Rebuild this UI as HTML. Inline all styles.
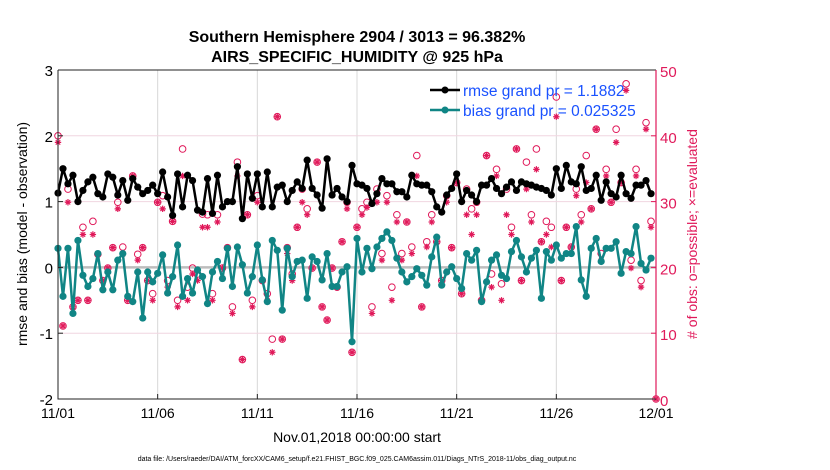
<!DOCTYPE html>
<html><head><meta charset="utf-8"><style>
body{margin:0;background:#fff;}
svg{display:block;font-family:"Liberation Sans",sans-serif;}
</style></head><body>
<svg id="chart" width="830" height="470" viewBox="0 0 830 470">
<text x="357" y="42" text-anchor="middle" font-size="16" font-weight="bold">Southern Hemisphere 2904 / 3013 = 96.382%</text>
<text x="357" y="62" text-anchor="middle" font-size="16" font-weight="bold">AIRS_SPECIFIC_HUMIDITY @ 925 hPa</text>
<g id="grid"></g>
<g id="marks"></g>
<g id="axes"></g>
<text transform="translate(27,234) rotate(-90)" text-anchor="middle" font-size="14">rmse and bias (model - observation)</text>
<text transform="translate(697,234) rotate(-90)" text-anchor="middle" font-size="14" fill="#e0195a"># of obs: o=possible; ×=evaluated</text>
<text x="357" y="442" text-anchor="middle" font-size="14">Nov.01,2018 00:00:00 start</text>
<text x="357" y="461" text-anchor="middle" font-size="7">data file: /Users/raeder/DAI/ATM_forcXX/CAM6_setup/f.e21.FHIST_BGC.f09_025.CAM6assim.011/Diags_NTrS_2018-11/obs_diag_output.nc</text>
<g>
<line x1="430" y1="90" x2="460" y2="90" stroke="#000" stroke-width="2.5"/>
<circle cx="445" cy="90" r="3.5" fill="#000"/>
<text x="463" y="96" font-size="15.5" fill="#1a52ff">rmse grand pr = 1.1882</text>
<line x1="430" y1="110" x2="460" y2="110" stroke="#108585" stroke-width="2.5"/>
<circle cx="445" cy="110" r="3.5" fill="#108585"/>
<text x="463" y="116" font-size="15.5" fill="#1a52ff">bias grand pr = 0.025325</text>
</g>
</svg>
<script>
const xTickLabels=["11/01","11/06","11/11","11/16","11/21","11/26","12/01"];
const yLeftTicks=[-2,-1,0,1,2,3];
const yRightTicks=[0,10,20,30,40,50];
const rmse=[1.13,1.5,1.27,1.4,1.0,1.17,1.3,1.37,1.12,1.07,1.42,1.37,1.1,1.32,1.02,1.35,1.22,1.12,1.17,1.25,1.12,1.45,1.07,0.79,1.42,0.92,1.4,1.32,0.87,0.84,
1.35,0.82,1.4,0.92,1.0,1.0,1.53,0.74,1.42,1.05,1.42,0.92,1.45,0.92,1.22,1.25,1.0,1.17,1.3,1.2,1.63,1.2,1.1,0.9,1.65,1.1,1.2,1.07,1.0,1.55,
1.27,1.25,1.2,0.97,1.12,1.35,1.27,1.27,1.15,1.15,1.07,1.4,1.27,1.25,1.25,1.15,0.92,0.84,1.1,1.2,1.42,1.0,1.17,1.1,1.0,1.25,1.25,1.35,1.2,1.12,
1.22,1.3,1.17,1.3,1.27,1.25,1.22,1.2,1.17,1.1,1.5,1.2,1.55,1.3,1.27,1.53,1.17,1.2,1.4,1.02,1.3,1.12,1.07,1.4,1.12,1.05,1.25,1.25,1.32,1.12];
const bias=[0.29,-0.44,0.29,-0.7,0.41,-0.12,-0.29,-0.17,0.21,-0.34,-0.07,-0.34,0.11,0.21,-0.44,-0.52,-0.07,-0.77,-0.07,-0.22,-0.09,0.19,-0.39,-0.14,0.34,-0.44,-0.17,-0.39,-0.04,-0.14,
-0.55,-0.07,0.09,-0.17,0.29,-0.29,0.31,0.04,-0.39,-0.14,0.34,-0.19,-0.52,0.41,0.26,-0.65,0.29,-0.14,0.09,0.11,-0.47,0.16,0.09,-0.19,0.21,-0.29,-0.29,-0.07,0.01,-1.13,
0.44,-0.07,0.29,-0.02,0.31,0.44,0.54,0.41,0.14,-0.07,-0.22,-0.14,-0.02,-0.12,-0.27,0.16,0.46,-0.27,-0.07,0.01,-0.17,-0.32,0.21,0.11,0.26,-0.52,-0.22,0.11,0.19,-0.12,
-0.17,0.24,0.41,0.16,-0.07,0.14,0.26,-0.47,0.24,0.11,0.34,0.14,0.21,0.21,0.62,-0.19,-0.44,0.29,0.44,0.09,0.29,0.29,0.39,-0.09,0.24,0.21,0.62,0.06,-0.04,0.14];
const nPossible=[40,11.1,31.9,14,15,26.1,15,27,22,18,19.9,23,29.9,23.1,15,33.9,22,23,18,16,29.9,30.9,18,27,15,38,17,19.9,19,28.1,
28,16,28,19.9,23,14,36,6,28,15,30.9,18,16,9.1,42.9,9.1,23,19,26.1,31.9,28.9,19.9,36,14,12,19.9,17,23.9,29.9,7.1,
26.1,28.9,29.9,14,31.9,22.1,30.9,17,28,22.1,26.9,23.1,37,14,23.9,28,23.9,18,30.9,23,32.9,16,31.9,28.9,29.9,15,37,19,34.9,17.5,
31.9,26.1,38,18,36,28,38,23.9,27,26.1,45.9,18,26.1,23.1,31.9,28,37,28.9,41,22.1,34.9,29.9,41,32.9,47.9,21.1,34.9,18,42,27,0];
const nEvaluated=[39,11.1,29.9,14,15,25,15,25,22,18,19.9,23,28.9,22,15,33.9,21.1,23,18,15,29.9,28.9,17,27,14,33.9,15,19,18,26.1,
26.1,15,26.9,19.9,23,13,33.9,6,28,14,29.9,18,15,7.1,42.9,9.1,22.1,18,26.1,29.9,28,19.9,36,14,12,19.9,17,23.9,28.9,7.1,
26.1,28,29.1,13,29.9,21.1,29.9,15,26.9,21.1,26.9,22.1,33.9,14,23.1,26.9,23.9,18,29.9,23,32.9,16,28,25,28,15,37,17,33.9,15,
28,25,38,18,31.9,26.9,34.9,23.9,25,23.1,42.9,18,26.1,23.1,30.9,26.9,32.9,28.9,41,21.1,33.9,29.9,39,32.9,46.9,19.9,33.9,17,41,26.1,0];

const NS="http://www.w3.org/2000/svg";
const L=58,R=656,T=70,B=399,STEPS=120;
const xs=i=>L+(R-L)*i/STEPS;
const yL=v=>B-(v+2)/5*(B-T);
const yR=v=>B-v/50*(B-T);
function mk(tag,attrs,parent){const e=document.createElementNS(NS,tag);for(const k in attrs)e.setAttribute(k,attrs[k]);parent.appendChild(e);return e;}
const grid=document.getElementById('grid'),marks=document.getElementById('marks'),axes=document.getElementById('axes');
mk('rect',{x:L,y:T,width:R-L,height:B-T,fill:'#fff'},grid);
xTickLabels.forEach((t,k)=>{
  const x=L+(R-L)*k/(xTickLabels.length-1);
  if(k>0&&k<xTickLabels.length-1){const g=mk('line',{x1:x,y1:T,x2:x,y2:B,stroke:'#d8d8d8','stroke-width':1},grid);
  
  }
  const tl=mk('line',{x1:x,y1:B,x2:x,y2:B-5,stroke:'#222'},axes);
  
  
  const tx=mk('text',{x:x,y:418,'text-anchor':'middle','font-size':14},axes);tx.textContent=t;
  
  
});
yRightTicks.forEach(v=>{
  const y=yR(v);
  if(v>0&&v<50){const g=mk('line',{x1:L,y1:y,x2:R,y2:y,stroke:'#f0d6e0','stroke-width':1},grid);
  
  }
  const t=mk('line',{x1:R,y1:y,x2:R-5,y2:y,stroke:'#e0195a'},axes);
  
  
  const tx=mk('text',{x:R+4,y:y+7,'font-size':15,fill:'#e0195a'},axes);tx.textContent=v;
  
  
});
yLeftTicks.forEach(v=>{
  const y=yL(v);
  const t=mk('line',{x1:L,y1:y,x2:L+5,y2:y,stroke:'#222'},axes);
  
  
  const tx=mk('text',{x:L-5,y:y+6,'text-anchor':'end','font-size':15},axes);tx.textContent=v;
  
  
});
const zl=mk('line',{x1:L,y1:yL(0),x2:R,y2:yL(0),stroke:'#bdbdbd','stroke-width':2.5},grid);


nPossible.forEach((v,i)=>{
  const c=mk('circle',{cx:xs(i),cy:yR(v),r:3.3,fill:'none',stroke:'#e0195a','stroke-width':1},marks);
  
  
});
nEvaluated.forEach((v,i)=>{
  const x=xs(i),y=yR(v),s=3.2;
  const p=mk('path',{d:`M${x-s} ${y}H${x+s}M${x} ${y-s}V${y+s}M${x-s*.7} ${y-s*.7}L${x+s*.7} ${y+s*.7}M${x-s*.7} ${y+s*.7}L${x+s*.7} ${y-s*.7}`,stroke:'#e0195a','stroke-width':1.2,fill:'none'},marks);
  
  
});
function series(arr,color,name){
  const pl=mk('polyline',{points:arr.map((v,i)=>xs(i)+','+yL(v)).join(' '),fill:'none',stroke:color,'stroke-width':2.5,'stroke-linejoin':'round'},marks);
  
  
  arr.forEach((v,i)=>{
    const c=mk('circle',{cx:xs(i),cy:yL(v),r:3.6,fill:color},marks);
    
    
  });
}
series(bias,'#108585','bias');
series(rmse,'#000','rmse');
const frame=mk('path',{d:`M${L} ${T}H${R}M${L} ${T}V${B}H${R}`,stroke:'#222','stroke-width':1,fill:'none'},axes);


const ra=mk('line',{x1:R,y1:T,x2:R,y2:B,stroke:'#e0195a','stroke-width':1.2},axes);


</script>
</body></html>
